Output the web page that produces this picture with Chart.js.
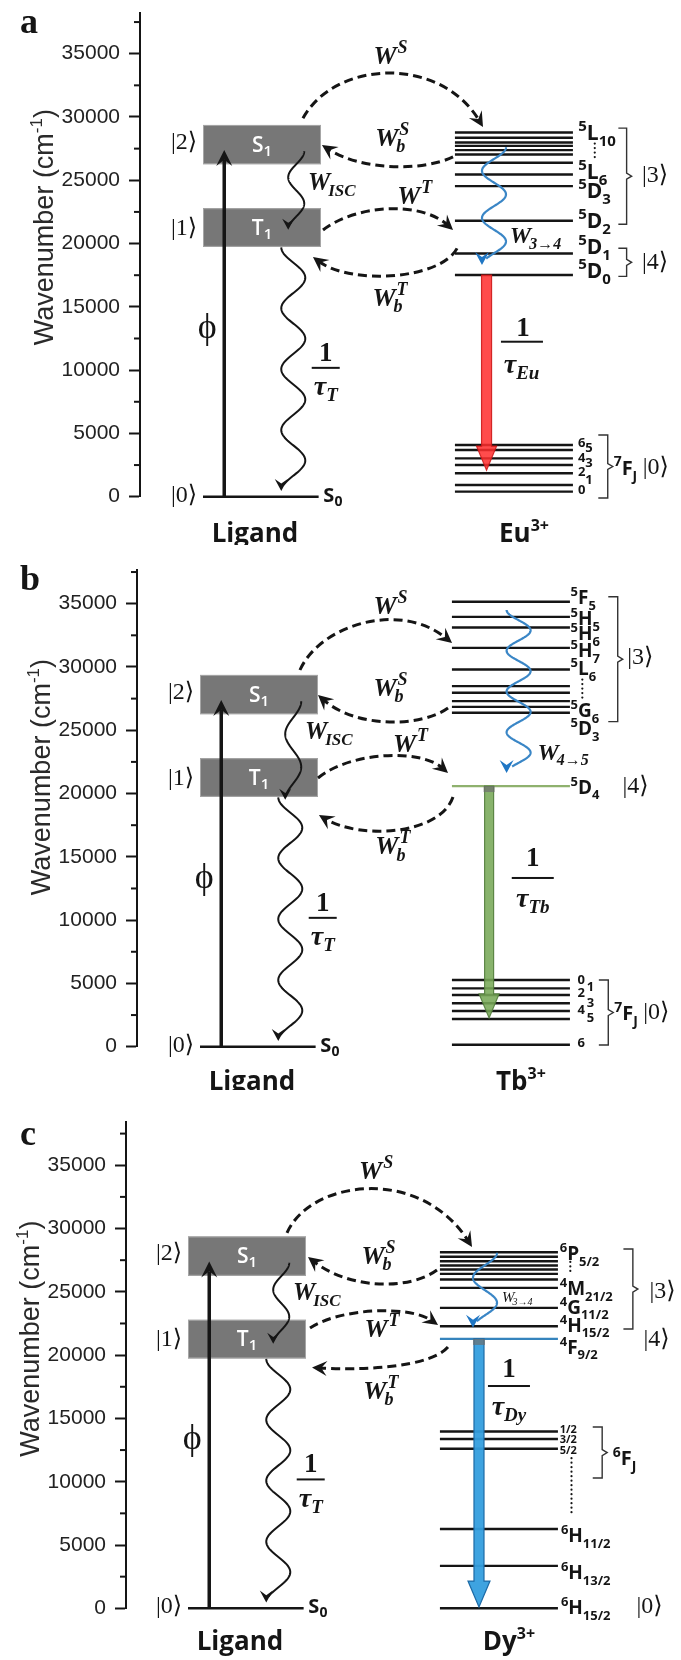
<!DOCTYPE html>
<html>
<head>
<meta charset="utf-8">
<script src="https://cdn.jsdelivr.net/npm/chart.js@4.4.0/dist/chart.umd.min.js"></script>
<style>
  html, body { margin: 0; padding: 0; background: #fff; }
  #page { width: 681px; }
  canvas { display: block; }
</style>
</head>
<body>
<div id="page">
  <canvas id="panel-a" width="681" height="545"></canvas>
  <canvas id="panel-b" width="681" height="545"></canvas>
  <canvas id="panel-c" width="681" height="570"></canvas>
</div>
<script>
// energies in cm-1
const yTicks = [0, 5000, 10000, 15000, 20000, 25000, 30000, 35000];

const ligandS1 = [26270, 29370];   // bottom / top of the S1 band
const ligandT1 = [19740, 22790];   // bottom / top of the T1 band
const ligandS0 = [0];
const excitationTop = 27400;

const euUpper = [28780, 28360, 27990, 27720, 27380, 27040, 26380, 25460, 24540, 21800]; // 5L10 .. 5D2
const euEmitting = [19220, 17510];                                                     // 5D1, 5D0
const euGround = [4080, 3690, 3030, 2500, 1850, 920, 400];                              // 7F6 .. 7F0
const euEmission = [17510, 2100];

const tbUpper = [35150, 33960, 33120, 31510, 29800, 28490, 27960, 27300, 26850, 26380];
const tbEmitting = [20590];                                                            // 5D4
const tbGround = [5270, 4610, 4080, 3430, 2820, 2190, 150];                            // 7F0 .. 7F6
const tbEmission = [20590, 2270];

const dyUpper = [28130, 27770, 27420, 27080, 26760, 26420, 25970, 25310, 23730, 22280];
const dyEmitting = [21280];                                                            // 4F9/2
const dyLower = [13970, 13370, 12600, 6270, 3350, 0];                                  // 6F1/2 .. 6H15/2
const dyEmission = [21280, 100];

const INK = '#151515';
const SANS = "'Open Sans', 'DejaVu Sans', sans-serif";
const SERIF = "'Liberation Serif', 'DejaVu Serif', serif";
const AXIS_FONT = "'Liberation Sans', Arial, sans-serif";
const COL_PX = 118;               // one column unit in pixels
const LIGAND_COL = [0, 1];
const ION_COL = [2.135, 3.135];

function levelPoints(energies, cols) {
  const pts = [];
  energies.forEach(e => {
    pts.push({ x: cols[0], y: e }, { x: cols[1], y: e }, { x: cols[1], y: null });
  });
  return pts;
}

function levelSet(energies, color, cols) {
  return {
    data: levelPoints(energies, cols || ION_COL),
    showLine: true, spanGaps: false, clip: false,
    borderColor: color, borderWidth: 2.4, pointRadius: 0, borderCapStyle: 'butt'
  };
}

// ---------- drawing helpers ----------
function X(chart, u) { return chart.scales.x.getPixelForValue(u); }
function Y(chart, e) { return chart.scales.y.getPixelForValue(e); }
function pt(chart, p) { return [X(chart, p[0]), Y(chart, p[1])]; }

function rich(ctx, x, y, segs, align) {
  let w = 0;
  for (const s of segs) { ctx.font = s.f; w += ctx.measureText(s.t).width + (s.gap || 0); }
  let cx = align === 'center' ? x - w / 2 : align === 'right' ? x - w : x;
  ctx.textAlign = 'left';
  ctx.textBaseline = 'alphabetic';
  for (const s of segs) {
    ctx.font = s.f;
    ctx.fillText(s.t, cx, y + (s.dy || 0));
    cx += ctx.measureText(s.t).width + (s.gap || 0);
  }
  return w;
}

function stealth(ctx, tip, ang, len, half, color) {
  const c = Math.cos(ang), s = Math.sin(ang);
  const bx = tip[0] - c * len, by = tip[1] - s * len;
  const nx = -s, ny = c;
  ctx.beginPath();
  ctx.moveTo(tip[0], tip[1]);
  ctx.lineTo(bx + nx * half, by + ny * half);
  ctx.lineTo(tip[0] - c * len * 0.62, tip[1] - s * len * 0.62);
  ctx.lineTo(bx - nx * half, by - ny * half);
  ctx.closePath();
  ctx.fillStyle = color;
  ctx.fill();
}

function dashedCurve(ctx, chart, c) {
  const [p0, c1, c2, p3] = c.p.map(p => pt(chart, p));
  const ang = Math.atan2(p3[1] - c2[1], p3[0] - c2[0]);
  const end = [p3[0] - Math.cos(ang) * 7, p3[1] - Math.sin(ang) * 7];
  ctx.save();
  ctx.setLineDash([9, 5]);
  ctx.lineWidth = 3;
  ctx.strokeStyle = INK;
  ctx.beginPath();
  ctx.moveTo(p0[0], p0[1]);
  ctx.bezierCurveTo(c1[0], c1[1], c2[0], c2[1], end[0], end[1]);
  ctx.stroke();
  ctx.restore();
  stealth(ctx, p3, ang, 15, 7.5, INK);
}

function wavy(ctx, chart, w) {
  const a = pt(chart, w.from), b = pt(chart, w.to);
  const dx = b[0] - a[0], dy = b[1] - a[1];
  const L = Math.hypot(dx, dy);
  const ux = dx / L, uy = dy / L, nx = -uy, ny = ux;
  const headLen = w.headLen || 11;
  const endT = 1 - headLen * 0.5 / L;
  ctx.save();
  ctx.strokeStyle = w.color;
  ctx.lineWidth = w.width || 2;
  ctx.lineJoin = 'round';
  ctx.beginPath();
  const steps = 240;
  for (let i = 0; i <= steps; i++) {
    const t = endT * i / steps;
    const off = w.sign * w.amp * Math.cos(Math.PI * w.n * t);
    const x = a[0] + dx * t + nx * off, y = a[1] + dy * t + ny * off;
    if (i === 0) ctx.moveTo(x, y); else ctx.lineTo(x, y);
  }
  ctx.stroke();
  const offEnd = w.sign * w.amp * Math.cos(Math.PI * w.n);
  const tip = [b[0] + nx * offEnd, b[1] + ny * offEnd];
  stealth(ctx, tip, Math.atan2(uy, ux), headLen, w.headHalf || 6, w.headColor || w.color);
  ctx.restore();
}

function mathW(ctx, x, ymid, sup, sub, size, align, weight) {
  const wt = weight || 'bold';
  const big = `italic ${wt} ${size}px ${SERIF}`;
  const sm = `italic ${wt} ${Math.round(size * 0.68)}px ${SERIF}`;
  ctx.font = big;
  const wW = ctx.measureText('W').width;
  ctx.font = sm;
  const ws = sup ? ctx.measureText(sup).width : 0;
  const wb = sub ? ctx.measureText(sub).width : 0;
  const total = wW + Math.max(ws, wb);
  const x0 = align === 'center' ? x - total / 2 : x;
  const base = ymid + size * 0.33;
  ctx.textAlign = 'left';
  ctx.textBaseline = 'alphabetic';
  ctx.fillStyle = INK;
  ctx.font = big;
  ctx.fillText('W', x0, base);
  ctx.font = sm;
  if (sup) ctx.fillText(sup, x0 + wW + 1, base - size * 0.42);
  if (sub) ctx.fillText(sub, x0 + wW - 2, base + size * 0.24);
}

function term(ctx, x, ymid, sup, main, sub, size) {
  const small = Math.round(size * 0.7);
  const base = ymid + size * 0.36;
  ctx.fillStyle = INK;
  rich(ctx, x, base, [
    { t: sup, f: `bold ${small}px ${SANS}`, dy: -size * 0.42 },
    { t: main, f: `bold ${size}px ${SANS}` },
    { t: sub, f: `bold ${small}px ${SANS}`, dy: size * 0.3 }
  ], 'left');
}

function ket(ctx, x, ymid, txt, align) {
  ctx.fillStyle = INK;
  ctx.font = `24px ${SERIF}`;
  ctx.textAlign = align || 'left';
  ctx.textBaseline = 'middle';
  ctx.fillText(txt, x, ymid);
}

function bracket(ctx, chart, b) {
  const xv = X(chart, b.u), xe = X(chart, b.uEnd);
  const yt = Y(chart, b.e[0]), yb = Y(chart, b.e[1]), ym = (yt + yb) / 2;
  ctx.save();
  ctx.strokeStyle = '#333';
  ctx.lineWidth = 1.4;
  ctx.beginPath();
  ctx.moveTo(xe, yt); ctx.lineTo(xv, yt); ctx.lineTo(xv, ym - 3);
  ctx.lineTo(xv + 5, ym); ctx.lineTo(xv, ym + 3); ctx.lineTo(xv, yb); ctx.lineTo(xe, yb);
  ctx.stroke();
  ctx.restore();
}

function dots(ctx, chart, d) {
  const x = X(chart, d[0]), y1 = Y(chart, d[1]), y2 = Y(chart, d[2]);
  ctx.fillStyle = INK;
  for (let y = y1; y <= y2; y += 4.5) {
    ctx.beginPath(); ctx.arc(x, y, 1.1, 0, Math.PI * 2); ctx.fill();
  }
}

function emission(ctx, chart, em) {
  const x = X(chart, em.u), y0 = Y(chart, em.e[0]), y1 = Y(chart, em.e[1]);
  const s = em.shaft / 2, h = em.head / 2, hy = y1 - em.headLen;
  ctx.save();
  ctx.beginPath();
  ctx.moveTo(x - s, y0); ctx.lineTo(x + s, y0); ctx.lineTo(x + s, hy);
  ctx.lineTo(x + h, hy); ctx.lineTo(x, y1); ctx.lineTo(x - h, hy); ctx.lineTo(x - s, hy);
  ctx.closePath();
  ctx.fillStyle = em.mid;
  ctx.fill();
  ctx.strokeStyle = em.edge;
  ctx.lineWidth = 1.2;
  ctx.stroke();
  if (em.cap) {
    ctx.fillStyle = 'rgba(110,110,110,0.7)';
    ctx.fillRect(x - s - 1, y0, em.shaft + 2, 6);
  }
  ctx.restore();
}

function rateLabel(ctx, chart, r) {
  ctx.fillStyle = INK;
  const one = pt(chart, r.one);
  rich(ctx, one[0], one[1] + 9, [{ t: '1', f: `bold 27px ${SERIF}` }], 'center');
  const bar = pt(chart, r.bar);
  ctx.fillRect(bar[0] - r.half, bar[1] - 1, r.half * 2, 2);
  const tau = pt(chart, r.tau);
  rich(ctx, tau[0], tau[1] + 6, [
    { t: 'τ', f: `italic bold 28px ${SERIF}` },
    { t: r.sub, f: `italic bold 19px ${SERIF}`, dy: 6 }
  ], 'center');
}

// ---------- per-panel layout (positions in column units / cm-1) ----------
const panelA = {
  canvas: 'panel-a', letter: 'a', letterY: 33,
  axisX: 140, boxLeft: 203, padTop: 13.2, padBottom: 48.3, yMax: 38200,
  datasets: [levelSet(euUpper, INK), levelSet(euEmitting, INK), levelSet(euGround, INK)],
  isc: [27300, 21100], iscLabel: 24850, nameE: -3580, ion: 'Eu',
  emission: { u: 2.403, e: euEmission, shaft: 10, head: 20, headLen: 24, mid: 'rgba(255,45,45,0.85)', edge: 'rgba(205,25,25,0.9)' },
  wave: { from: [2.466, 27610], to: [2.466, 18300], amp: 12, n: 5, sign: -1 },
  waveLabel: { at: [2.6, 20670], sub: '3→4', size: 24, weight: 'bold' },
  rate: { one: [2.712, 13400], bar: [2.703, 12245], tau: [2.7, 10250], half: 21, sub: 'Eu' },
  curves: [
    { p: [[0.847, 29900], [1.119, 34500], [2.008, 34900], [2.373, 29210]], at: [1.585, 34890], sup: 'S', sub: '' },
    { p: [[2.119, 26840], [1.839, 25650], [1.331, 25810], [1.008, 27780]], at: [1.6, 28400], sup: 'S', sub: 'b' },
    { p: [[1.017, 21070], [1.288, 23040], [1.839, 23440], [2.119, 21070]], at: [1.79, 23820], sup: 'T', sub: '' },
    { p: [[2.153, 19620], [2.008, 17120], [1.246, 16720], [0.932, 18940]], at: [1.58, 15780], sup: 'T', sub: 'b' }
  ],
  terms: [[3.18, 28810, '5', 'L', '10'], [3.18, 25720, '5', 'L', '6'], [3.18, 24220, '5', 'D', '3'],
          [3.18, 21860, '5', 'D', '2'], [3.18, 19810, '5', 'D', '1'], [3.18, 17910, '5', 'D', '0']],
  termSize: 21,
  dots: [[3.32, 27900, 26700]],
  brackets: [{ u: 3.59, uEnd: 3.52, e: [29120, 21530] }, { u: 3.59, uEnd: 3.52, e: [19630, 17410] },
             { u: 3.43, uEnd: 3.35, e: [4870, -100] }],
  kets: [[3.72, 25330, '|3⟩'], [3.72, 18520, '|4⟩']],
  small: [['6', 3.21, 4240], ['5', 3.27, 3850], ['4', 3.21, 3060], ['3', 3.27, 2660],
          ['2', 3.21, 1950], ['1', 3.27, 1320], ['0', 3.21, 530]],
  ground: { at: [3.48, 2300], sup: '7', ket: true }
};

const panelB = {
  canvas: 'panel-b', letter: 'b', letterY: 45,
  axisX: 137, boxLeft: 200, padTop: 24.5, padBottom: 43.3, yMax: 37700,
  datasets: [levelSet(tbUpper, INK), levelSet(tbEmitting, '#8fb16e'), levelSet(tbGround, INK)],
  isc: [27300, 19500], iscLabel: 25000, nameE: -3420, ion: 'Tb',
  emission: { u: 2.45, e: tbEmission, shaft: 9, head: 20, headLen: 24, mid: 'rgba(120,168,88,0.88)', edge: 'rgba(82,125,60,0.9)', cap: true },
  wave: { from: [2.7, 34500], to: [2.7, 21620], amp: 12, n: 8, sign: 1 },
  waveLabel: { at: [2.86, 23300], sub: '4→5', size: 24, weight: 'bold' },
  rate: { one: [2.82, 14990], bar: [2.82, 13330], tau: [2.82, 11510], half: 21, sub: 'Tb' },
  curves: [
    { p: [[0.847, 29760], [1.017, 33310], [1.695, 35290], [2.136, 31890]], at: [1.61, 34900], sup: 'S', sub: '' },
    { p: [[2.102, 26760], [1.864, 25180], [1.314, 25180], [1.0, 27790]], at: [1.61, 28420], sup: 'S', sub: 'b' },
    { p: [[1.0, 21230], [1.271, 23280], [1.864, 23600], [2.102, 21620]], at: [1.78, 23990], sup: 'T', sub: '' },
    { p: [[2.144, 19730], [2.034, 16720], [1.356, 16330], [1.008, 18300]], at: [1.63, 15870], sup: 'T', sub: 'b' }
  ],
  terms: [[3.14, 35530, '5', 'F', '5'], [3.14, 33870, '5', 'H', '5'], [3.14, 32680, '5', 'H', '6'],
          [3.14, 31340, '5', 'H', '7'], [3.14, 29910, '5', 'L', '6'], [3.14, 26600, '5', 'G', '6'],
          [3.14, 25170, '5', 'D', '3'], [3.14, 20540, '5', 'D', '4']],
  termSize: 19,
  dots: [[3.24, 29000, 27500]],
  brackets: [{ u: 3.54, uEnd: 3.46, e: [35550, 25680] }, { u: 3.46, uEnd: 3.38, e: [5270, 130] }],
  kets: [[3.62, 30700, '|3⟩'], [3.58, 20540, '|4⟩']],
  small: [['0', 3.23, 5270], ['1', 3.31, 4720], ['2', 3.23, 4190], ['3', 3.31, 3400],
          ['4', 3.23, 2900], ['5', 3.31, 2270], ['6', 3.23, 290]],
  ground: { at: [3.51, 2650], sup: '7', ket: true }
};

const panelC = {
  canvas: 'panel-c', letter: 'c', letterY: 55,
  axisX: 126, boxLeft: 188, padTop: 32.2, padBottom: 51.7, yMax: 38400,
  datasets: [levelSet(dyUpper, INK), levelSet(dyEmitting, '#3584bd'), levelSet(dyLower, INK)],
  isc: [27300, 20900], iscLabel: 25000, nameE: -3290, ion: 'Dy',
  emission: { u: 2.466, e: dyEmission, shaft: 10, head: 22, headLen: 26, mid: 'rgba(52,158,222,0.95)', edge: '#1c6aa6', cap: true },
  wave: { from: [2.517, 28090], to: [2.517, 22160], amp: 12, n: 3, sign: -1 },
  waveLabel: { at: [2.66, 24600], sub: '3→4', size: 15, weight: 'normal' },
  rate: { one: [2.72, 18960], bar: [2.72, 17560], tau: [2.72, 15740], half: 21, sub: 'Dy' },
  curves: [
    { p: [[0.839, 29650], [1.034, 33830], [1.966, 35020], [2.407, 28540]], at: [1.59, 34610], sup: 'S', sub: '' },
    { p: [[2.11, 26720], [1.881, 25140], [1.373, 25140], [1.017, 27760]], at: [1.61, 27900], sup: 'S', sub: 'b' },
    { p: [[1.034, 22140], [1.288, 23720], [1.881, 23960], [2.119, 22380]], at: [1.64, 22130], sup: 'T', sub: '' },
    { p: [[2.203, 20640], [2.051, 19000], [1.458, 18770], [1.051, 19030]], at: [1.63, 17240], sup: 'T', sub: 'b' }
  ],
  terms: [[3.15, 28060, '6', 'P', '5/2'], [3.15, 25280, '4', 'M', '21/2'], [3.15, 23810, '4', 'G', '11/2'],
          [3.15, 22390, '4', 'H', '15/2'], [3.15, 20650, '4', 'F', '9/2'], [3.16, 5790, '6', 'H', '11/2'],
          [3.16, 2870, '6', 'H', '13/2'], [3.16, 100, '6', 'H', '15/2']],
  termSize: 19,
  dots: [[3.24, 27360, 26330], [3.25, 11860, 7510]],
  brackets: [{ u: 3.77, uEnd: 3.69, e: [28380, 22060] }, { u: 3.51, uEnd: 3.43, e: [14320, 10290] }],
  kets: [[3.91, 24990, '|3⟩'], [3.86, 21200, '|4⟩'], [3.8, 100, '|0⟩']],
  small: [['1/2', 3.15, 14100, 'left'], ['3/2', 3.15, 13310, 'left'], ['5/2', 3.15, 12430, 'left']],
  ground: { at: [3.6, 11870], sup: '6', ket: false }
};

function diagramPlugin(panel) {
  return {
    id: 'diagram-' + panel.letter,
    beforeDatasetsDraw(chart) {
      const ctx = chart.ctx;
      ctx.save();
      // ligand S1 / T1 bands
      [[ligandS1, 'S'], [ligandT1, 'T']].forEach(([band, name]) => {
        const x0 = X(chart, LIGAND_COL[0]), x1 = X(chart, LIGAND_COL[1]);
        const yt = Y(chart, band[1]), yb = Y(chart, band[0]);
        ctx.fillStyle = '#777';
        ctx.fillRect(x0, yt, x1 - x0, yb - yt);
        ctx.strokeStyle = '#a6a6a6';
        ctx.lineWidth = 1;
        ctx.strokeRect(x0 + 0.5, yt + 0.5, x1 - x0 - 1, yb - yt - 1);
        ctx.fillStyle = '#fff';
        rich(ctx, X(chart, 0.5), (yt + yb) / 2 + 7, [
          { t: name, f: `600 21px ${SANS}` },
          { t: '1', f: `600 15px ${SANS}`, dy: 4 }
        ], 'center');
      });
      ctx.restore();
    },
    afterDatasetsDraw(chart) {
      const ctx = chart.ctx;
      const area = chart.chartArea;
      ctx.save();

      // minor ticks
      ctx.strokeStyle = INK;
      ctx.lineWidth = 2;
      for (let v = 2500; v <= panel.yMax; v += 5000) {
        const y = Y(chart, v);
        ctx.beginPath(); ctx.moveTo(area.left - 6, y); ctx.lineTo(area.left, y); ctx.stroke();
      }

      // axis title
      ctx.save();
      ctx.translate(area.left - 97, Y(chart, 21300));
      ctx.rotate(-Math.PI / 2);
      ctx.fillStyle = '#2a2a2a';
      rich(ctx, 0, 10, [
        { t: 'Wavenumber (cm', f: `27px ${AXIS_FONT}` },
        { t: '-1', f: `17px ${AXIS_FONT}`, dy: -11 },
        { t: ')', f: `27px ${AXIS_FONT}` }
      ], 'center');
      ctx.restore();

      // panel letter
      ctx.fillStyle = INK;
      ctx.font = `bold 36px ${SERIF}`;
      ctx.textAlign = 'left';
      ctx.textBaseline = 'alphabetic';
      ctx.fillText(panel.letter, 20, panel.letterY);

      // ligand ground line
      ctx.strokeStyle = INK;
      ctx.lineWidth = 2.6;
      ctx.beginPath();
      ctx.moveTo(X(chart, LIGAND_COL[0]), Y(chart, ligandS0[0]));
      ctx.lineTo(X(chart, 0.98), Y(chart, ligandS0[0]));
      ctx.stroke();

      // excitation arrow
      const ex = X(chart, 0.18);
      const exTip = Y(chart, excitationTop);
      ctx.lineWidth = 3.5;
      ctx.beginPath(); ctx.moveTo(ex, Y(chart, 0)); ctx.lineTo(ex, exTip + 10); ctx.stroke();
      stealth(ctx, [ex, exTip], -Math.PI / 2, 16, 8, INK);

      // kets on the ligand side
      ket(ctx, X(chart, -0.05), Y(chart, 28000), '|2⟩', 'right');
      ket(ctx, X(chart, -0.05), Y(chart, 21200), '|1⟩', 'right');
      ket(ctx, X(chart, -0.05), Y(chart, 100), '|0⟩', 'right');
      ctx.fillStyle = INK;
      rich(ctx, X(chart, 1.02), Y(chart, 150) + 7, [
        { t: 'S', f: `bold 20px ${SANS}` },
        { t: '0', f: `bold 14px ${SANS}`, dy: 4 }
      ], 'left');
      ctx.font = `36px ${SERIF}`;
      ctx.textAlign = 'center';
      ctx.textBaseline = 'middle';
      ctx.fillText('ϕ', X(chart, 0.035), Y(chart, 13300));

      // ligand wavy relaxations
      wavy(ctx, chart, { from: [0.79, panel.isc[0]], to: [0.79, panel.isc[1]], amp: 8, n: 3, sign: -1, color: INK, width: 2, headLen: 11, headHalf: 6 });
      wavy(ctx, chart, { from: [0.765, 19700], to: [0.765, 450], amp: 12, n: 8, sign: 1, color: INK, width: 2, headLen: 12, headHalf: 6.5 });
      mathW(ctx, X(chart, 0.89), Y(chart, panel.iscLabel), '', 'ISC', 25, 'left');
      rateLabel(ctx, chart, { one: [1.04, 11450], bar: [1.04, 10180], tau: [1.04, 8500], half: 14, sub: 'T' });

      // energy transfer curves
      panel.curves.forEach(c => {
        dashedCurve(ctx, chart, c);
        const at = pt(chart, c.at);
        mathW(ctx, at[0], at[1], c.sup, c.sub, 26, 'center');
      });

      // ion emission and internal relaxation
      emission(ctx, chart, panel.emission);
      wavy(ctx, chart, Object.assign({ color: '#3a86c6', width: 2.2, headLen: 13, headHalf: 7, headColor: '#1f76c4' }, panel.wave));
      const wl = pt(chart, panel.waveLabel.at);
      mathW(ctx, wl[0], wl[1], '', panel.waveLabel.sub, panel.waveLabel.size, 'left', panel.waveLabel.weight);
      rateLabel(ctx, chart, panel.rate);

      // level labels
      panel.terms.forEach(t => term(ctx, X(chart, t[0]), Y(chart, t[1]), t[2], t[3], t[4], panel.termSize));
      panel.dots.forEach(d => dots(ctx, chart, d));
      panel.brackets.forEach(b => bracket(ctx, chart, b));
      panel.kets.forEach(k => ket(ctx, X(chart, k[0]), Y(chart, k[1]), k[2], 'left'));
      panel.small.forEach(s => {
        ctx.fillStyle = INK;
        ctx.font = s[3] ? `bold 11px ${SANS}` : `bold 13px ${SANS}`;
        ctx.textAlign = s[3] ? 'left' : 'center';
        ctx.textBaseline = 'middle';
        ctx.fillText(s[0], X(chart, s[1]), Y(chart, s[2]));
      });
      const g = pt(chart, panel.ground.at);
      term(ctx, g[0], g[1], panel.ground.sup, 'F', 'J', 20);
      if (panel.ground.ket) ket(ctx, g[0] + 29, g[1], '|0⟩', 'left');

      // column names
      ctx.fillStyle = INK;
      const nameY = Y(chart, panel.nameE);
      rich(ctx, X(chart, 0.44), nameY, [{ t: 'Ligand', f: `bold 26px ${SANS}` }], 'center');
      rich(ctx, X(chart, 2.72), nameY, [
        { t: panel.ion, f: `bold 26px ${SANS}` },
        { t: '3+', f: `bold 16px ${SANS}`, dy: -11 }
      ], 'center');

      ctx.restore();
    }
  };
}

function buildPanel(panel) {
  const xMin = -(panel.boxLeft - panel.axisX) / COL_PX;
  const xMax = xMin + (681 - panel.axisX) / COL_PX;
  return new Chart(document.getElementById(panel.canvas), {
    type: 'scatter',
    data: { datasets: panel.datasets },
    options: {
      responsive: false,
      animation: false,
      devicePixelRatio: 1,
      events: [],
      layout: { padding: { top: panel.padTop, bottom: panel.padBottom, left: 0, right: 0 } },
      plugins: { legend: { display: false }, tooltip: { enabled: false } },
      scales: {
        x: { type: 'linear', display: false, min: xMin, max: xMax },
        y: {
          type: 'linear', min: 0, max: panel.yMax,
          border: { display: true, color: INK, width: 2 },
          grid: { drawOnChartArea: false, drawTicks: true, tickLength: 11, tickWidth: 2, tickColor: INK },
          ticks: { padding: 9, color: '#222', font: { family: AXIS_FONT, size: 21 }, callback: v => String(v) },
          afterBuildTicks: s => { s.ticks = yTicks.map(v => ({ value: v })); },
          afterFit: s => { s.width = panel.axisX; s.paddingTop = 0; s.paddingBottom = 0; }
        }
      }
    },
    plugins: [diagramPlugin(panel)]
  });
}

[panelA, panelB, panelC].forEach(buildPanel);
</script>
</body>
</html>
